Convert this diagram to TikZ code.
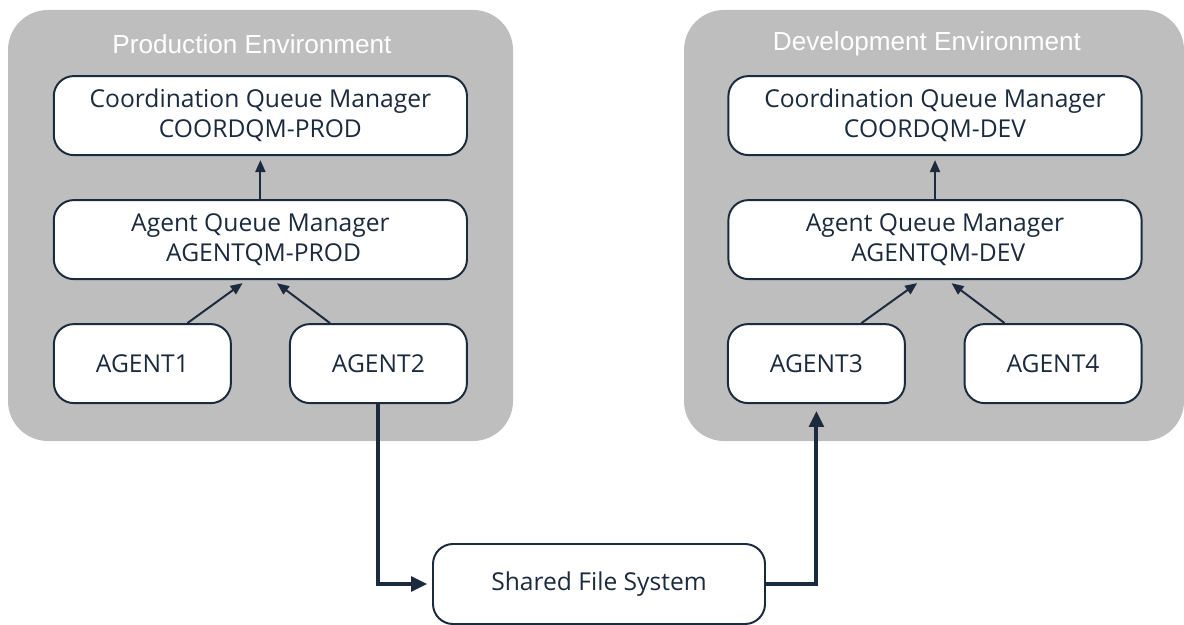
\documentclass[tikz,border=0pt]{standalone}
\usepackage{fontspec}
\setmainfont{Open Sans}
\newfontfamily\titlefont{Liberation Sans}
\usetikzlibrary{arrows.meta}
\definecolor{navy}{RGB}{28,42,62}
\definecolor{panelgray}{RGB}{190,190,190}
\begin{document}
\begin{tikzpicture}[>={Triangle[length=0.3cm,width=0.25cm]},
  panel/.style={fill=panelgray, rounded corners=1cm},
  envtitle/.style={text=white, font=\titlefont\fontsize{18.6}{21}\selectfont},
  qmbox/.style={draw=navy, line width=1.4pt, fill=white, rounded corners=0.5cm, minimum width=10.33cm, minimum height=1.975cm, align=center, text=navy, font=\fontsize{17.5}{21.5}\selectfont},
  agentbox/.style={qmbox, minimum width=4.425cm},
  thin/.style={->, draw=navy, line width=1.4pt},
  thick/.style={->, draw=navy, line width=2.8pt, >={Triangle[length=0.4cm,width=0.36cm]}}]
\useasboundingbox (0,0) rectangle (29.6,-15.625);

\fill[panel] (0.2,-0.25) rectangle (12.825,-11.025);
\fill[panel] (17.1,-0.25) rectangle (29.6,-11.025);
\node[envtitle] (prodtitle) at (6.3,-1.1) {Production Environment};
\node[envtitle] (devtitle) at (23.175,-1.1) {Development Environment};

\node[qmbox] (coordprod) at (6.51,-2.89) {Coordination Queue Manager\\COORDQM-PROD};
\node[qmbox] (agentprod) at (6.51,-5.99) {Agent Queue Manager\\~AGENTQM-PROD};
\node[agentbox] (agent1) at (3.56,-9.09) {AGENT1};
\node[agentbox] (agent2) at (9.46,-9.09) {AGENT2};

\node[qmbox] (coorddev) at (23.375,-2.89) {Coordination Queue Manager\\COORDQM-DEV};
\node[qmbox] (agentdev) at (23.375,-5.99) {Agent Queue Manager\\~AGENTQM-DEV};
\node[agentbox] (agent3) at (20.41,-9.09) {AGENT3};
\node[agentbox] (agent4) at (26.325,-9.09) {AGENT4};

\node[qmbox, minimum width=8.3cm, minimum height=2cm] (shared) at (14.975,-14.6) {Shared File System};

\draw[thin, shorten >=0.1cm] (agentprod.north) -- (coordprod.south);
\draw[thin, shorten >=0.13cm] ([xshift=1.125cm]agent1.north) -- ([xshift=-0.34cm]agentprod.south);
\draw[thin, shorten >=0.13cm] ([xshift=-1.21cm]agent2.north) -- ([xshift=0.31cm]agentprod.south);

\draw[thin, shorten >=0.1cm] (agentdev.north) -- (coorddev.south);
\draw[thin, shorten >=0.13cm] ([xshift=1.125cm]agent3.north) -- ([xshift=-0.34cm]agentdev.south);
\draw[thin, shorten >=0.13cm] ([xshift=-1.21cm]agent4.north) -- ([xshift=0.31cm]agentdev.south);

\draw[thick, shorten >=0.12cm] (agent2.south) |- (shared.west);
\draw[thick, shorten >=0.17cm] (shared.east) -| (agent3.south);
\end{tikzpicture}
\end{document}
